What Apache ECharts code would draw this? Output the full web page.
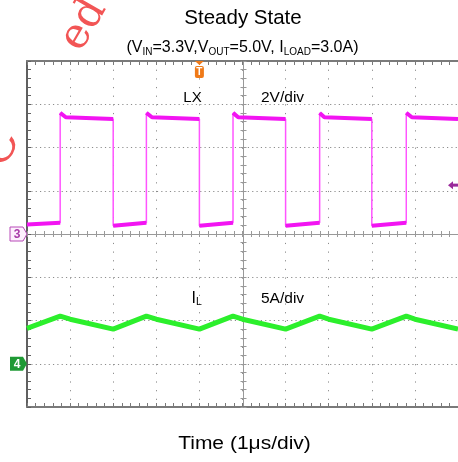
<!DOCTYPE html>
<html><head><meta charset="utf-8">
<script src="https://cdn.jsdelivr.net/npm/echarts@6/dist/echarts.min.js"></script>
<style>html,body{margin:0;padding:0;background:#fff}#c{width:458px;height:462px}</style>
</head><body><div id="c"></div>
<script>
// Scope screen: time in divisions (1 µs/div), vertical in divisions (0 = bottom of screen)
const lxTime  = [0, 0.77, 0.77, 0.9, 2.0, 2.0, 2.77, 2.77, 2.9, 4.0, 4.0, 4.78, 4.78, 4.9, 6.0, 6.0, 6.79, 6.79, 6.9, 8.0, 8.0, 8.8, 8.8, 8.93, 10];
const lxLevel = [4.22, 4.26, 6.80, 6.70, 6.66, 4.19, 4.26, 6.80, 6.70, 6.66, 4.19, 4.26, 6.80, 6.70, 6.66, 4.19, 4.26, 6.80, 6.70, 6.66, 4.19, 4.26, 6.80, 6.70, 6.66];
const ilTime  = [0, 0.77, 1.0, 2.0, 2.77, 3.0, 4.0, 4.78, 5.0, 6.0, 6.79, 7.0, 8.0, 8.8, 9.0, 10];
const ilLevel = [1.82, 2.10, 2.03, 1.80, 2.10, 2.03, 1.80, 2.10, 2.03, 1.80, 2.10, 2.03, 1.80, 2.10, 2.03, 1.80];
const ch3Zero = 4;      // channel 3 ground reference (div)
const ch4Zero = 1;      // channel 4 ground reference (div)
const trigTime = 4;     // trigger position (div)
const trigLevel = 5.13; // trigger level (div)
const titleText = 'Steady State';
const subText = '(V{s|IN}=3.3V,V{s|OUT}=5.0V, I{s|LOAD}=3.0A)';
const xName = 'Time (1μs/div)';

const FONT = '"Liberation Sans", Arial, sans-serif';
const chart = echarts.init(document.getElementById('c'), null, {renderer: 'canvas'});

const lxFull = lxTime.map((t, i) => [t, lxLevel[i]]);
const lxLevels = [];
lxTime.forEach((t, i) => {
  if (i > 0 && lxTime[i - 1] === t) lxLevels.push([t, null]);
  lxLevels.push([t, lxLevel[i]]);
});
const ilData = ilTime.map((t, i) => [t, ilLevel[i]]);

const frame = '#7a7a7a';
const dotV = {color: '#8c8c8c', width: 1, type: [1.2, 7.46]};
const dotH = {color: '#8c8c8c', width: 1, type: [1.2, 3.13]};
function xa(extra) {
  return Object.assign({type: 'value', min: 0, max: 10, interval: 1, axisLabel: {show: false},
    splitLine: {show: false}}, extra);
}
function ya(extra) {
  return Object.assign({type: 'value', min: 0, max: 8, interval: 1, axisLabel: {show: false},
    splitLine: {show: false}}, extra);
}
function edge(color, w, inside, len) {
  return {
    axisLine: {show: true, onZero: false, lineStyle: {color: color, width: w}},
    axisTick: {show: true, inside: inside, length: len, lineStyle: {color: color, width: 1}},
    minorTick: {show: true, splitNumber: 5, length: len, lineStyle: {color: color, width: 1}}
  };
}

chart.setOption({
  animation: false,
  backgroundColor: '#fff',
  grid: {left: 27, top: 61, width: 433, height: 346, containLabel: false},
  xAxis: [
    xa(Object.assign({position: 'bottom', splitLine: {show: true, lineStyle: dotV}}, edge(frame, 2, true, 4))),
    xa(Object.assign({position: 'top'}, edge(frame, 2, true, 4))),
    xa(Object.assign({position: 'bottom', offset: -173}, edge('#999', 1, true, 3))),
    xa(Object.assign({position: 'bottom', offset: -173}, edge('#999', 1, false, 3)))
  ],
  yAxis: [
    ya(Object.assign({position: 'left', splitLine: {show: true, lineStyle: dotH}}, edge('#606060', 2, true, 4))),
    ya(Object.assign({position: 'left', offset: -216.5}, edge('#999', 1, true, 3))),
    ya(Object.assign({position: 'left', offset: -216.5}, edge('#999', 1, false, 3)))
  ],
  series: [
    {type: 'line', name: 'LX', data: lxFull, showSymbol: false, lineStyle: {color: '#ff55ff', width: 1.5}, z: 3},
    {type: 'line', name: 'LX levels', data: lxLevels, connectNulls: false, showSymbol: false, lineStyle: {color: '#f214f2', width: 4}, z: 4},
    {type: 'line', name: 'IL', data: ilData, showSymbol: false, lineStyle: {color: '#2cef2c', width: 5}, z: 4}
  ]
});

const p3 = chart.convertToPixel({xAxisIndex: 0, yAxisIndex: 0}, [0, ch3Zero]);
const p4 = chart.convertToPixel({xAxisIndex: 0, yAxisIndex: 0}, [0, ch4Zero]);
const pt = chart.convertToPixel({xAxisIndex: 0, yAxisIndex: 0}, [trigTime, 8]);
const pl = chart.convertToPixel({xAxisIndex: 0, yAxisIndex: 0}, [10, trigLevel]);
const gx = p3[0];

function txt(x, y, text, size, opts, z) {
  return {type: 'text', z: z || 10, style: Object.assign({x: x, y: y, text: text,
    font: size + 'px ' + FONT, fill: '#000', align: 'center', verticalAlign: 'middle'}, opts || {})};
}

chart.setOption({graphic: [
  // watermark fragments
  {type: 'text', z: 1, rotation: Math.PI / 3, x: 84, y: 25, style: {text: 'ed', font: '42px "DejaVu Serif", serif', fill: '#f25555', align: 'center', verticalAlign: 'middle'}},
  {type: 'text', z: 1, rotation: Math.PI / 3, x: 1, y: 148, style: {text: 'C', font: '48px "DejaVu Serif", serif', fill: '#f25555', align: 'center', verticalAlign: 'middle'}},
  txt(243, 18, titleText, 20.5),
  {type: 'text', z: 10, style: {x: 242.5, y: 48, text: subText, font: '16px ' + FONT, fill: '#000',
    align: 'center', verticalAlign: 'middle', lineHeight: 18,
    rich: {s: {fontSize: 10, fontFamily: FONT, lineHeight: 14, verticalAlign: 'bottom'}}}},
  txt(192.5, 98, 'LX', 15),
  txt(261, 98, '2V/div', 15.5, {align: 'left'}),
  {type: 'text', z: 10, style: {x: 191.5, y: 298.5, text: 'I{s|L}', font: '16px ' + FONT, fill: '#000',
    align: 'left', verticalAlign: 'middle', lineHeight: 18,
    rich: {s: {fontSize: 10.5, fontFamily: FONT, lineHeight: 15, verticalAlign: 'bottom'}}}},
  txt(261, 298.5, '5A/div', 15.5, {align: 'left'}),
  {type: 'text', z: 10, x: 244.5, y: 444, scaleX: 1.2, style: {x: 0, y: 0, text: xName, font: '17.5px ' + FONT,
    fill: '#000', align: 'center', verticalAlign: 'middle'}},
  // channel 3 marker
  {type: 'polygon', z: 11, shape: {points: [[gx - 17, p3[1] - 7], [gx - 4, p3[1] - 7], [gx, p3[1]], [gx - 4, p3[1] + 7], [gx - 17, p3[1] + 7]]},
    style: {fill: '#fdf0fd', stroke: '#b84ab8', lineWidth: 1}},
  txt(gx - 10, p3[1] + 0.5, '3', 12, {fill: '#a83aa8', font: 'bold 12px ' + FONT}, 12),
  // channel 4 marker
  {type: 'polygon', z: 11, shape: {points: [[gx - 17, p4[1] - 7], [gx - 4, p4[1] - 7], [gx, p4[1]], [gx - 4, p4[1] + 7], [gx - 17, p4[1] + 7]]},
    style: {fill: '#1f9a35'}},
  txt(gx - 10, p4[1] + 0.5, '4', 12, {fill: '#fff', font: 'bold 12px ' + FONT}, 12),
  // trigger position marker
  {type: 'polygon', z: 11, shape: {points: [[pt[0] - 4.5, pt[1]], [pt[0] + 4.5, pt[1]], [pt[0], pt[1] + 4]]}, style: {fill: '#f07a18'}},
  {type: 'rect', z: 11, shape: {x: pt[0] - 4.5, y: pt[1] + 5, width: 9, height: 12, r: 2}, style: {fill: '#f07a18'}},
  txt(pt[0], pt[1] + 11.5, 'T', 10, {fill: '#fff', font: 'bold 10px ' + FONT}, 12),
  // trigger level marker
  {type: 'polygon', z: 11, shape: {points: [[pl[0] - 10, pl[1]], [pl[0] - 5, pl[1] - 4], [pl[0] - 5, pl[1] + 4]]}, style: {fill: '#9a2a9a'}},
  {type: 'rect', z: 11, shape: {x: pl[0] - 5, y: pl[1] - 1.5, width: 5, height: 3}, style: {fill: '#9a2a9a'}}
]});
</script>
</body></html>
